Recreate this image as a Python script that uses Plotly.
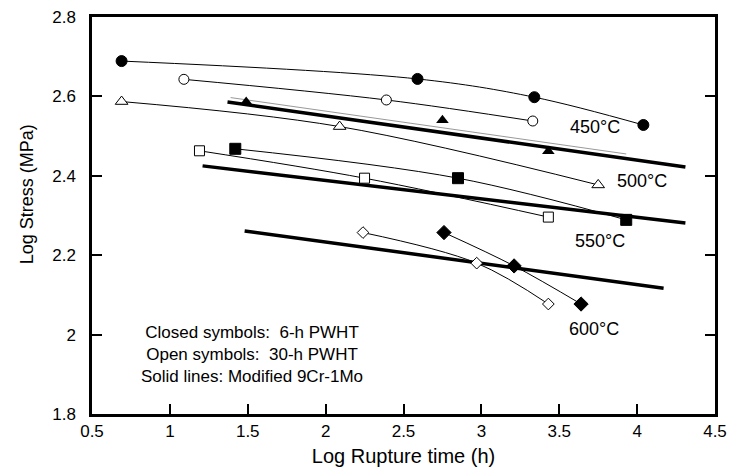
import plotly.graph_objects as go

# ---- data (log rupture time h, log stress MPa) ----
c450_x = [0.69, 2.59, 3.34, 4.04]
c450_y = [2.689, 2.644, 2.598, 2.528]
o450_x = [1.09, 2.39, 3.33]
o450_y = [2.643, 2.591, 2.538]

c500_x = [1.49, 2.75, 3.43]
c500_y = [2.586, 2.540, 2.462]
o500_x = [0.69, 2.09, 3.75]
o500_y = [2.587, 2.524, 2.377]

c550_x = [1.42, 2.85, 3.93]
c550_y = [2.468, 2.394, 2.289]
o550_x = [1.19, 2.25, 3.43]
o550_y = [2.463, 2.394, 2.296]

c600_x = [2.76, 3.21, 3.64]
c600_y = [2.257, 2.173, 2.077]
o600_x = [2.24, 2.97, 3.43]
o600_y = [2.257, 2.180, 2.077]

fit500_x = [1.39, 3.93]
fit500_y = [2.597, 2.455]

mod_a_x = [1.37, 4.31]
mod_a_y = [2.586, 2.422]
mod_b_x = [1.21, 4.31]
mod_b_y = [2.425, 2.281]
mod_c_x = [1.48, 4.17]
mod_c_y = [2.261, 2.117]

temp_labels = ["450°C", "500°C", "550°C", "600°C"]
temp_x = [3.73, 4.03, 3.76, 3.72]
temp_y = [2.523, 2.387, 2.236, 2.014]

note_lines = ["Closed symbols:  6-h PWHT", "Open symbols:  30-h PWHT", "Solid lines: Modified 9Cr-1Mo"]
note_x = 1.53
note_y = 1.950

x_ticks = [0.5, 1, 1.5, 2, 2.5, 3, 3.5, 4, 4.5]
x_ticktext = ["0.5", "1", "1.5", "2", "2.5", "3", "3.5", "4", "4.5"]
y_ticks = [1.8, 2.0, 2.2, 2.4, 2.6, 2.8]
y_ticktext = ["1.8", "2", "2.2", "2.4", "2.6", "2.8"]

FONT = "Liberation Sans, Arial, Helvetica"

fig = go.Figure()

def curve(x, y, symbol, size, filled):
    fig.add_trace(go.Scatter(
        x=x, y=y, mode="lines+markers",
        line=dict(color="black", width=1, shape="spline"),
        marker=dict(symbol=symbol, size=size,
                    color="black" if filled else "white",
                    line=dict(color="black", width=1)),
        showlegend=False))

def thick(x, y):
    fig.add_trace(go.Scatter(x=x, y=y, mode="lines",
                             line=dict(color="black", width=3.5), showlegend=False))

thick(mod_a_x, mod_a_y)
thick(mod_b_x, mod_b_y)
thick(mod_c_x, mod_c_y)
fig.add_trace(go.Scatter(x=fit500_x, y=fit500_y, mode="lines",
                         line=dict(color="#999999", width=1), showlegend=False))

curve(c450_x, c450_y, "circle", 11, True)
curve(o450_x, o450_y, "circle", 10, False)
fig.add_trace(go.Scatter(x=c500_x, y=c500_y, mode="markers",
                         marker=dict(symbol="triangle-up", size=11, color="black"),
                         showlegend=False))
curve(o500_x, o500_y, "triangle-up", 11, False)
curve(c550_x, c550_y, "square", 11, True)
curve(o550_x, o550_y, "square", 10, False)
curve(c600_x, c600_y, "diamond", 11, True)
curve(o600_x, o600_y, "diamond", 9, False)

for t, x, y in zip(temp_labels, temp_x, temp_y):
    fig.add_annotation(x=x, y=y, text=t, showarrow=False,
                       font=dict(size=18, color="black", family=FONT))
fig.add_annotation(x=note_x, y=note_y, text="<br>".join(note_lines), showarrow=False,
                   align="center", font=dict(size=17, color="black", family=FONT))

fig.add_annotation(xref="paper", yref="paper", x=-0.104, y=0.554,
                   xanchor="center", yanchor="middle",
                   text="Log Stress (MPa)", textangle=-90, showarrow=False,
                   font=dict(size=18, color="black", family=FONT))

fig.update_layout(
    width=729, height=467,
    margin=dict(l=92, r=14, t=17, b=53, autoexpand=False),
    paper_bgcolor="white", plot_bgcolor="white",
    font=dict(family=FONT, color="black", size=17),
)
fig.update_xaxes(
    range=[0.5, 4.5], tickvals=x_ticks, ticktext=x_ticktext,
    ticks="inside", ticklen=10, tickwidth=1.5, tickcolor="black",
    showline=True, linecolor="black", linewidth=2.5, mirror=True,
    showgrid=False, zeroline=False, automargin=False,
    title=dict(text="Log Rupture time (h)", font=dict(size=20), standoff=10),
    tickfont=dict(size=17), ticklabelstandoff=0,
)
fig.update_yaxes(
    range=[1.8, 2.8], tickvals=y_ticks, ticktext=y_ticktext,
    ticks="inside", ticklen=10, tickwidth=1.5, tickcolor="black",
    showline=True, linecolor="black", linewidth=2.5, mirror="ticks",
    showgrid=False, zeroline=False, automargin=False,
    tickfont=dict(size=17), ticklabelstandoff=10,
)

fig.write_html("out.html", config={"displayModeBar": False},
               post_script="document.body.style.margin='0';")
